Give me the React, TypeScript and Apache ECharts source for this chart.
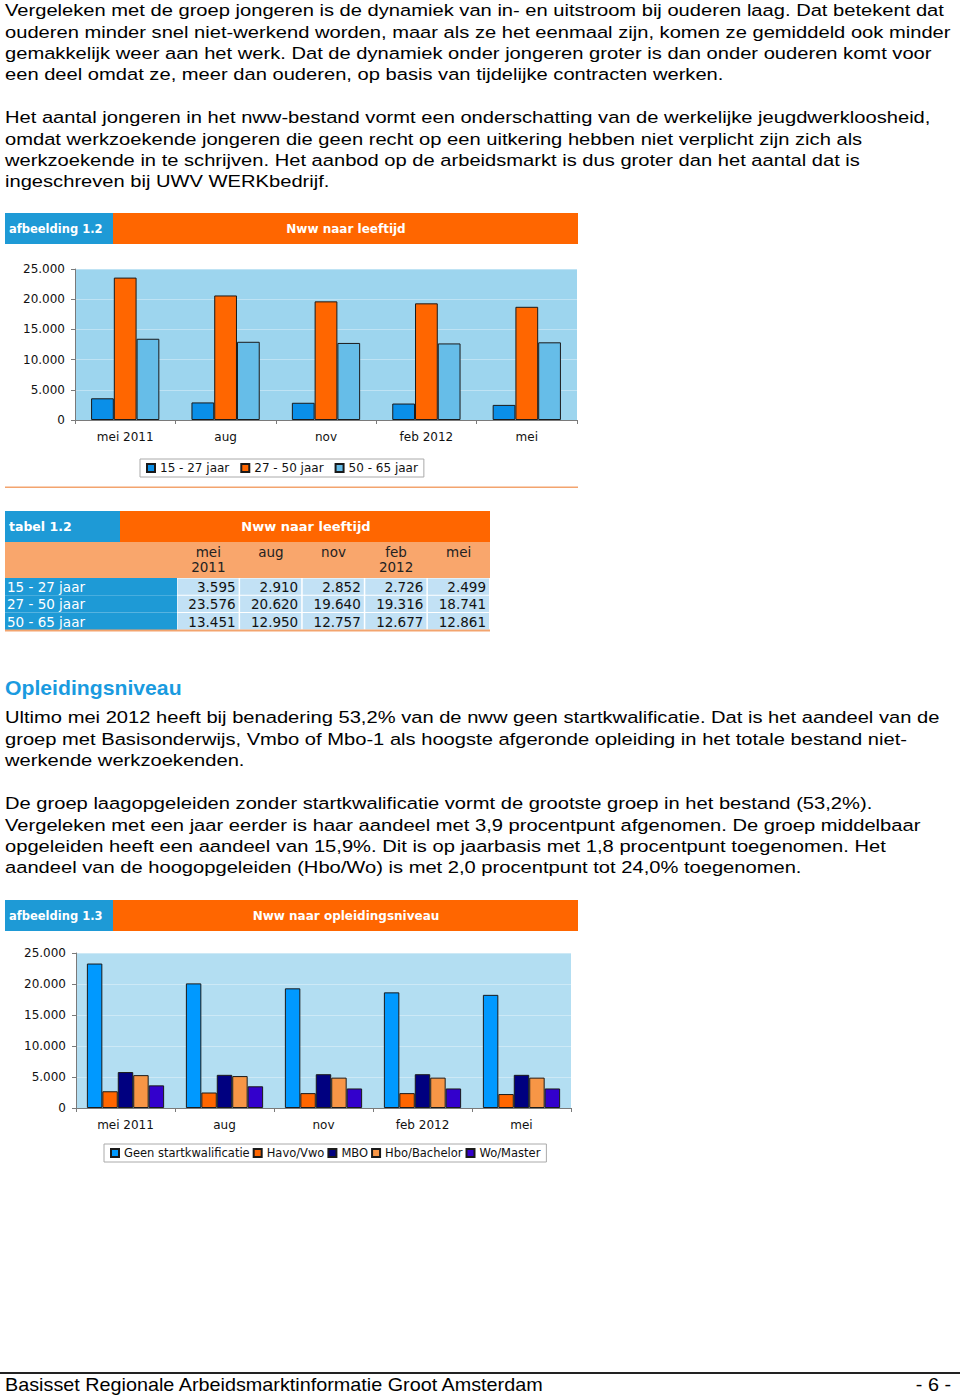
import React, { useEffect, useRef } from "react";
import * as echarts from "echarts";

const categories = ["mei 2011", "aug", "nov", "feb 2012", "mei"];
const tableHeadTop = ["mei", "aug", "nov", "feb", "mei"];
const tableHeadBottom = ["2011", "", "", "2012", ""];
const ageGroups = ["15 - 27 jaar", "27 - 50 jaar", "50 - 65 jaar"];
const age15to27 = [3595, 2910, 2852, 2726, 2499];
const age27to50 = [23576, 20620, 19640, 19316, 18741];
const age50to65 = [13451, 12950, 12757, 12677, 12861];
const eduGroups = ["Geen startkwalificatie", "Havo/Vwo", "MBO", "Hbo/Bachelor", "Wo/Master"];
const eduGeen = [23300, 20100, 19300, 18650, 18250];
const eduHavo = [2700, 2500, 2400, 2400, 2250];
const eduMbo = [5800, 5350, 5450, 5450, 5350];
const eduHbo = [5300, 5150, 4900, 4900, 4900];
const eduWo = [3650, 3500, 3150, 3150, 3150];

const para1 = [
  "Vergeleken met de groep jongeren is de dynamiek van in- en uitstroom bij ouderen laag. Dat betekent dat",
  "ouderen minder snel niet-werkend worden, maar als ze het eenmaal zijn, komen ze gemiddeld ook minder",
  "gemakkelijk weer aan het werk. Dat de dynamiek onder jongeren groter is dan onder ouderen komt voor",
  "een deel omdat ze, meer dan ouderen, op basis van tijdelijke contracten werken.",
];
const para2 = [
  "Het aantal jongeren in het nww-bestand vormt een onderschatting van de werkelijke jeugdwerkloosheid,",
  "omdat werkzoekende jongeren die geen recht op een uitkering hebben niet verplicht zijn zich als",
  "werkzoekende in te schrijven. Het aanbod op de arbeidsmarkt is dus groter dan het aantal dat is",
  "ingeschreven bij UWV WERKbedrijf.",
];
const para3 = [
  "Ultimo mei 2012 heeft bij benadering 53,2% van de nww geen startkwalificatie. Dat is het aandeel van de",
  "groep met Basisonderwijs, Vmbo of Mbo-1 als hoogste afgeronde opleiding in het totale bestand niet-",
  "werkende werkzoekenden.",
];
const para4 = [
  "De groep laagopgeleiden zonder startkwalificatie vormt de grootste groep in het bestand (53,2%).",
  "Vergeleken met een jaar eerder is haar aandeel met 3,9 procentpunt afgenomen. De groep middelbaar",
  "opgeleiden heeft een aandeel van 15,9%. Dit is op jaarbasis met 1,8 procentpunt toegenomen. Het",
  "aandeel van de hoogopgeleiden (Hbo/Wo) is met 2,0 procentpunt tot 24,0% toegenomen.",
];

const BLUE = "#1e9ad6";
const ORANGE = "#ff6600";
const LIGHT_ORANGE = "#f9a66c";
const CELL = "#c2e1f5";
const CHART_FONT = "DejaVu Sans";
const BODY_FONT = '17px "Liberation Sans"';
const BODY_SCALE = 1.185;

function fmt(v: number): string {
  const s = String(Math.round(v));
  return s.replace(/\B(?=(\d{3})+(?!\d))/g, ".");
}

function bodyLines(lines: string[], y0: number, step: number) {
  return lines.map((t, i) => ({
    type: "text",
    x: 5,
    y: y0 + i * step,
    scaleX: BODY_SCALE,
    style: { text: t, font: BODY_FONT, fill: "#000", textVerticalAlign: "middle" },
  }));
}

function headerBar(y: number, h: number, leftLabel: string, title: string, leftW: number, right: number, titleX: number, leftSize: number, titleSize: number) {
  return [
    { type: "rect", shape: { x: 5, y, width: leftW - 5, height: h }, style: { fill: BLUE } },
    { type: "rect", shape: { x: leftW, y, width: right - leftW, height: h }, style: { fill: ORANGE } },
    {
      type: "text", x: 9, y: y + h / 2,
      style: { text: leftLabel, font: `bold ${leftSize}px "${CHART_FONT}"`, fill: "#fff", textVerticalAlign: "middle" },
    },
    {
      type: "text", x: titleX, y: y + h / 2,
      style: { text: title, font: `bold ${titleSize}px "${CHART_FONT}"`, fill: "#fff", textAlign: "center", textVerticalAlign: "middle" },
    },
  ];
}

function tableGraphics() {
  const els: any[] = [];
  const colX0 = 177;
  const colW = 62.6;
  const f = `13.5px "${CHART_FONT}"`;
  els.push(...headerBar(511, 31, "tabel 1.2", "Nww naar leeftijd", 120, 490, 306, 12.5, 13));
  els.push({ type: "rect", shape: { x: 5, y: 542, width: 485, height: 36 }, style: { fill: LIGHT_ORANGE } });
  for (let c = 0; c < categories.length; c++) {
    const cx = colX0 + colW * c + colW / 2;
    els.push({ type: "text", x: cx, y: 552, style: { text: tableHeadTop[c], font: f, fill: "#222", textAlign: "center", textVerticalAlign: "middle" } });
    if (tableHeadBottom[c]) {
      els.push({ type: "text", x: cx, y: 567, style: { text: tableHeadBottom[c], font: f, fill: "#222", textAlign: "center", textVerticalAlign: "middle" } });
    }
  }
  const rows = [age15to27, age27to50, age50to65];
  rows.forEach((row, r) => {
    const y = 578 + r * 17.3;
    els.push({ type: "rect", shape: { x: 5, y, width: 172, height: 17.3 }, style: { fill: BLUE } });
    els.push({ type: "text", x: 7, y: y + 9, style: { text: ageGroups[r], font: f, fill: "#fff", textVerticalAlign: "middle" } });
    row.forEach((v, c) => {
      const x = colX0 + colW * c;
      els.push({ type: "rect", shape: { x: x + 0.5, y: y + 0.5, width: colW - 1.5, height: 16.3 }, style: { fill: CELL } });
      els.push({ type: "text", x: x + colW - 4, y: y + 9, style: { text: fmt(v), font: f, fill: "#111", textAlign: "right", textVerticalAlign: "middle" } });
    });
  });
  els.push({ type: "rect", shape: { x: 5, y: 629.5, width: 485, height: 2 }, style: { fill: "#f3a46e" } });
  return els;
}

const axisLabelStyle = { fontFamily: CHART_FONT, fontSize: 12, color: "#111" };

function yAxisOf(gridIndex: number) {
  return {
    type: "value", gridIndex, min: 0, max: 25000, interval: 5000,
    axisLine: { show: true, lineStyle: { color: "#7a7a7a" } },
    axisTick: { show: true, length: 4, lineStyle: { color: "#7a7a7a" } },
    splitLine: { show: true, lineStyle: { color: "rgba(255,255,255,0.35)", width: 1 } },
    axisLabel: { ...axisLabelStyle, margin: 10, formatter: (v: number) => fmt(v) },
  };
}

function xAxisOf(gridIndex: number) {
  return {
    type: "category", gridIndex, data: categories,
    axisLine: { show: true, lineStyle: { color: "#7a7a7a" } },
    axisTick: { show: true, length: 4, lineStyle: { color: "#7a7a7a" } },
    axisLabel: { ...axisLabelStyle, margin: 11 },
  };
}

const barBorder = { borderColor: "#1a1a1a", borderWidth: 1 };

export default function App() {
  const ref = useRef<HTMLDivElement>(null);
  useEffect(() => {
    if (!ref.current) return;
    const chart = echarts.init(ref.current, undefined, { renderer: "svg" });
    const graphic: any[] = [
      ...bodyLines(para1, 10.5, 21.3),
      ...bodyLines(para2, 117.5, 21.3),
      ...headerBar(213, 31, "afbeelding 1.2", "Nww naar leeftijd", 113, 578, 346, 11.5, 12),
      { type: "rect", shape: { x: 5, y: 486.5, width: 573, height: 1.5 }, style: { fill: "#f3a46e" } },
      ...tableGraphics(),
      {
        type: "text", x: 5, y: 688, scaleX: 1.06,
        style: { text: "Opleidingsniveau", font: 'bold 20px "Liberation Sans"', fill: "#1a9be0", textVerticalAlign: "middle" },
      },
      ...bodyLines(para3, 717.5, 21.3),
      ...bodyLines(para4, 803.5, 21.3),
      ...headerBar(900, 31, "afbeelding 1.3", "Nww naar opleidingsniveau", 113, 578, 346, 11.5, 12),
      { type: "rect", shape: { x: 0, y: 1372, width: 960, height: 2 }, style: { fill: "#222" } },
      {
        type: "text", x: 5, y: 1385, scaleX: 1.1,
        style: { text: "Basisset Regionale Arbeidsmarktinformatie Groot Amsterdam", font: '18px "Liberation Sans"', fill: "#000", textVerticalAlign: "middle" },
      },
      {
        type: "text", x: 951, y: 1385, scaleX: 1.1,
        style: { text: "- 6 -", font: '18px "Liberation Sans"', fill: "#000", textAlign: "right", textVerticalAlign: "middle" },
      },
    ];
    chart.setOption({
      animation: false,
      backgroundColor: "#ffffff",
      grid: [
        { left: 75, top: 269, width: 502, height: 151, show: true, backgroundColor: "#9dd5ee", borderWidth: 0 },
        { left: 76, top: 953, width: 495, height: 155, show: true, backgroundColor: "#b3def2", borderWidth: 0 },
      ],
      xAxis: [xAxisOf(0), xAxisOf(1)],
      yAxis: [yAxisOf(0), yAxisOf(1)],
      legend: [
        {
          data: ageGroups, left: 140, top: 459, orient: "horizontal", icon: "rect",
          itemWidth: 8, itemHeight: 8, itemGap: 11, padding: [3, 6],
          borderColor: "#aaaaaa", borderWidth: 1,
          textStyle: { fontFamily: CHART_FONT, fontSize: 12, color: "#111" },
        },
        {
          data: eduGroups, left: 104, top: 1144, orient: "horizontal", icon: "rect",
          itemWidth: 8, itemHeight: 8, itemGap: 3, padding: [3, 6],
          borderColor: "#aaaaaa", borderWidth: 1,
          textStyle: { fontFamily: CHART_FONT, fontSize: 11.5, color: "#111" },
        },
      ],
      series: [
        { name: ageGroups[0], type: "bar", xAxisIndex: 0, yAxisIndex: 0, data: age15to27, barGap: "0%", barCategoryGap: "32%", itemStyle: { color: "#0a8fe8", ...barBorder } },
        { name: ageGroups[1], type: "bar", xAxisIndex: 0, yAxisIndex: 0, data: age27to50, barGap: "0%", barCategoryGap: "32%", itemStyle: { color: "#ff6600", ...barBorder } },
        { name: ageGroups[2], type: "bar", xAxisIndex: 0, yAxisIndex: 0, data: age50to65, barGap: "0%", barCategoryGap: "32%", itemStyle: { color: "#66bde8", ...barBorder } },
        { name: eduGroups[0], type: "bar", xAxisIndex: 1, yAxisIndex: 1, data: eduGeen, barGap: "0%", barCategoryGap: "22%", itemStyle: { color: "#0099ff", ...barBorder } },
        { name: eduGroups[1], type: "bar", xAxisIndex: 1, yAxisIndex: 1, data: eduHavo, barGap: "0%", barCategoryGap: "22%", itemStyle: { color: "#ff6600", ...barBorder } },
        { name: eduGroups[2], type: "bar", xAxisIndex: 1, yAxisIndex: 1, data: eduMbo, barGap: "0%", barCategoryGap: "22%", itemStyle: { color: "#000080", ...barBorder } },
        { name: eduGroups[3], type: "bar", xAxisIndex: 1, yAxisIndex: 1, data: eduHbo, barGap: "0%", barCategoryGap: "22%", itemStyle: { color: "#f79646", ...barBorder } },
        { name: eduGroups[4], type: "bar", xAxisIndex: 1, yAxisIndex: 1, data: eduWo, barGap: "0%", barCategoryGap: "22%", itemStyle: { color: "#3300cc", ...barBorder } },
      ],
      graphic: { elements: graphic },
    });
    return () => chart.dispose();
  }, []);
  return (
    <div
      ref={ref}
      style={{ position: "absolute", left: 0, top: 0, width: 960, height: 1399, background: "#fff" }}
    />
  );
}
